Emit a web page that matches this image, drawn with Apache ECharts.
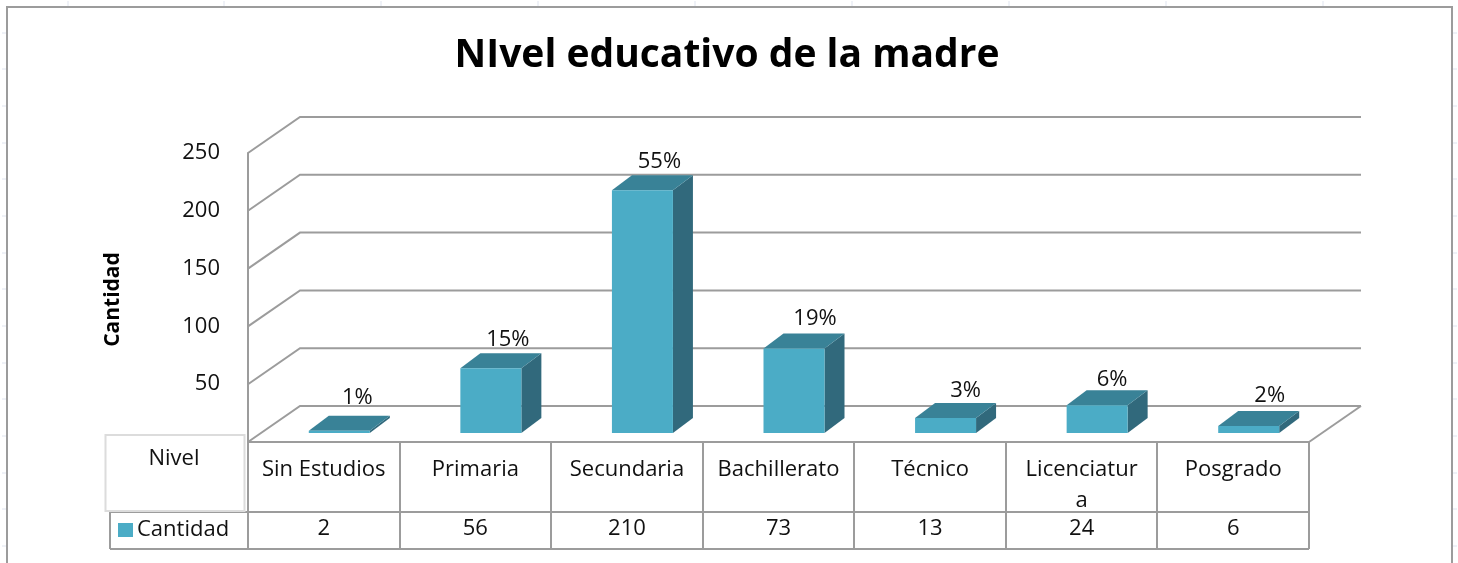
<!DOCTYPE html>
<html>
<head>
<meta charset="utf-8">
<style>html,body{margin:0;padding:0;background:#fff}#c{width:1458px;height:563px}</style>
<script src="https://cdn.jsdelivr.net/npm/echarts@6/dist/echarts.min.js"></script>
</head>
<body>
<div id="c"></div>
<script>
const titleText = 'NIvel educativo de la madre';
const yAxisName = 'Cantidad';
const seriesName = 'Cantidad';
const tableHeader = 'Nivel';
const categories = ['Sin Estudios', 'Primaria', 'Secundaria', 'Bachillerato', 'Técnico', 'Licenciatur\na', 'Posgrado'];
const values = [2, 56, 210, 73, 13, 24, 6];
const percents = ['1%', '15%', '55%', '19%', '3%', '6%', '2%'];
const gridValues = [0, 50, 100, 150, 200, 250];
const sheetTicksX = [68, 224, 381, 538, 695, 852, 1009, 1166, 1323];
const sheetTicksY = [33, 69, 106, 143, 179, 216, 253, 289, 326, 363, 399, 436, 473, 509, 546];

// label placement tweaks, in pixels
const labelNudgeX = [2, 1, 1, 5, 4, -1, 5];
const labelNudgeY = [-4, 0, 0, -1, 2, 3, -1];

const FONT = '"Open Sans", "Noto Sans", sans-serif';
const GRAY = '#9c9c9c';
const BORDER = {l: 7, t: 7, r: 1452, b: 563};
const WALL = {dx: 52, dy: -36};
const BAR = {dx: 20, dy: -15, w: 61, shift: 15.5, lift: 9};

function line(x1, y1, x2, y2, stroke, lw) {
  return {type: 'line', silent: true, z: 1, shape: {x1, y1, x2, y2}, style: {stroke: stroke || GRAY, lineWidth: lw || 2}};
}
function cellText(x, y, text, extra) {
  return {type: 'text', silent: true, z: 5, x, y, style: Object.assign({text, fill: '#111', font: '22px ' + FONT, align: 'center', verticalAlign: 'middle'}, extra || {})};
}

const chart = echarts.init(document.getElementById('c'), null, {renderer: 'canvas'});

const gridLeft = 248, gridRight = 1309, gridTop = 153, gridBottom = 442;
const band = (gridRight - gridLeft) / categories.length;

const graphics = [
  {type: 'rect', silent: true, z: 1, shape: {x: BORDER.l, y: BORDER.t, width: BORDER.r - BORDER.l, height: BORDER.b - BORDER.t + 10}, style: {fill: 'none', stroke: GRAY, lineWidth: 2}}
];
sheetTicksX.forEach(x => graphics.push(line(x, 1, x, 6, '#dfe4ef', 1)));
sheetTicksY.forEach(y => {
  graphics.push(line(2, y, 6, y, '#dfe4ef', 1));
  graphics.push(line(1453, y, 1457, y, '#dfe4ef', 1));
});
// data table
const rowTop = gridBottom, rowMid = 512, rowBot = 549;
graphics.push(line(gridLeft, rowTop, gridRight, rowTop));
graphics.push(line(110, rowMid, gridRight, rowMid));
graphics.push(line(110, rowBot, gridRight, rowBot));
graphics.push(line(110, rowMid, 110, rowBot));
for (let i = 0; i <= categories.length; i++) {
  const x = Math.round(gridLeft + band * i);
  graphics.push(line(x, rowTop, x, rowBot));
}
graphics.push({type: 'rect', silent: true, z: 1, shape: {x: 105.5, y: 435, width: 139, height: 76}, style: {fill: '#fff', stroke: '#dcdcdc', lineWidth: 2}});
graphics.push(cellText(174, 459, tableHeader));
values.forEach((v, i) => graphics.push(cellText(gridLeft + band * (i + 0.5), 529, String(v))));

function wallItem(params, api) {
  const v = api.value(0);
  const p = api.coord([0, v]);
  const x0 = p[0] - api.size([1, 0])[0] / 2;
  const x1 = x0 + api.size([1, 0])[0] * categories.length;
  const y = p[1];
  const children = [
    {type: 'polyline', shape: {points: [[x0, y], [x0 + WALL.dx, y + WALL.dy], [x1 + WALL.dx, y + WALL.dy]]}, style: {fill: 'none', stroke: GRAY, lineWidth: 2}}
  ];
  if (v === 0) {
    children.push({type: 'line', shape: {x1: x1 + WALL.dx, y1: y + WALL.dy, x2: x1, y2: y}, style: {stroke: GRAY, lineWidth: 2}});
  }
  return {type: 'group', children};
}

function barItem(params, api) {
  const i = api.value(0), v = api.value(1);
  const top = api.coord([i, v]), base = api.coord([i, 0]);
  const x0 = top[0] + BAR.shift - BAR.w / 2, x1 = x0 + BAR.w;
  const yT = top[1] - BAR.lift, yB = base[1] - BAR.lift;
  const dx = BAR.dx, dy = BAR.dy;
  return {type: 'group', children: [
    {type: 'polygon', shape: {points: [[x1, yB], [x1 + dx, yB + dy], [x1 + dx, yT + dy], [x1, yT]]}, style: {fill: '#31697c'}},
    {type: 'polygon', shape: {points: [[x0, yT], [x0 + dx, yT + dy], [x1 + dx, yT + dy], [x1, yT]]}, style: {fill: '#398297'}},
    {type: 'rect', shape: {x: x0, y: yT, width: BAR.w, height: yB - yT}, style: {fill: '#4bacc6'}},
    {type: 'text', x: (x0 + x1) / 2 + 16 + labelNudgeX[i], y: yT + dy - 14 + labelNudgeY[i], style: {text: percents[i], fill: '#111', font: '22px ' + FONT, align: 'center', verticalAlign: 'middle'}}
  ]};
}

chart.setOption({
  animation: false,
  backgroundColor: '#fff',
  title: {text: titleText, left: 722, top: 31, textAlign: 'center',
    textStyle: {fontFamily: FONT, fontWeight: 'bold', fontSize: 39, color: '#000'}},
  legend: {left: 118, top: 519, itemWidth: 15, itemHeight: 14, itemGap: 7, icon: 'rect', selectedMode: false,
    data: [{name: seriesName, itemStyle: {color: '#4bacc6'}}],
    textStyle: {fontFamily: FONT, fontSize: 22, color: '#111', padding: [0, 0, 0, -1]}, padding: 0},
  grid: {left: gridLeft, right: 1458 - gridRight, top: gridTop, bottom: 563 - gridBottom},
  xAxis: {type: 'category', data: categories, boundaryGap: true,
    axisLine: {show: false}, axisTick: {show: false},
    axisLabel: {interval: 0, margin: 12, verticalAlign: 'top', lineHeight: 31, fontFamily: FONT, fontSize: 22, color: '#111'}},
  yAxis: {type: 'value', min: 0, max: 250, interval: 50, name: yAxisName, nameLocation: 'middle', nameRotate: 90, nameGap: 124,
    nameTextStyle: {fontFamily: FONT, fontWeight: 'bold', fontSize: 21, color: '#000', padding: [0, 4, 0, 0]},
    axisLine: {show: true, lineStyle: {color: GRAY, width: 2}}, axisTick: {show: false}, splitLine: {show: false},
    axisLabel: {margin: 28, padding: [3, 0, 0, 0], fontFamily: FONT, fontSize: 22, color: '#111', formatter: v => v === 0 ? '' : String(v)}},
  graphic: graphics,
  series: [
    {type: 'custom', name: 'walls', coordinateSystem: 'cartesian2d', silent: true, z: 1,
      encode: {x: -1, y: 0}, data: gridValues.map(v => [v]), renderItem: wallItem, legendHoverLink: false},
    {type: 'custom', name: seriesName, coordinateSystem: 'cartesian2d', silent: true, z: 3,
      encode: {x: 0, y: 1}, itemStyle: {color: '#4bacc6'}, data: values.map((v, i) => [i, v]), renderItem: barItem}
  ]
});
</script>
</body>
</html>
